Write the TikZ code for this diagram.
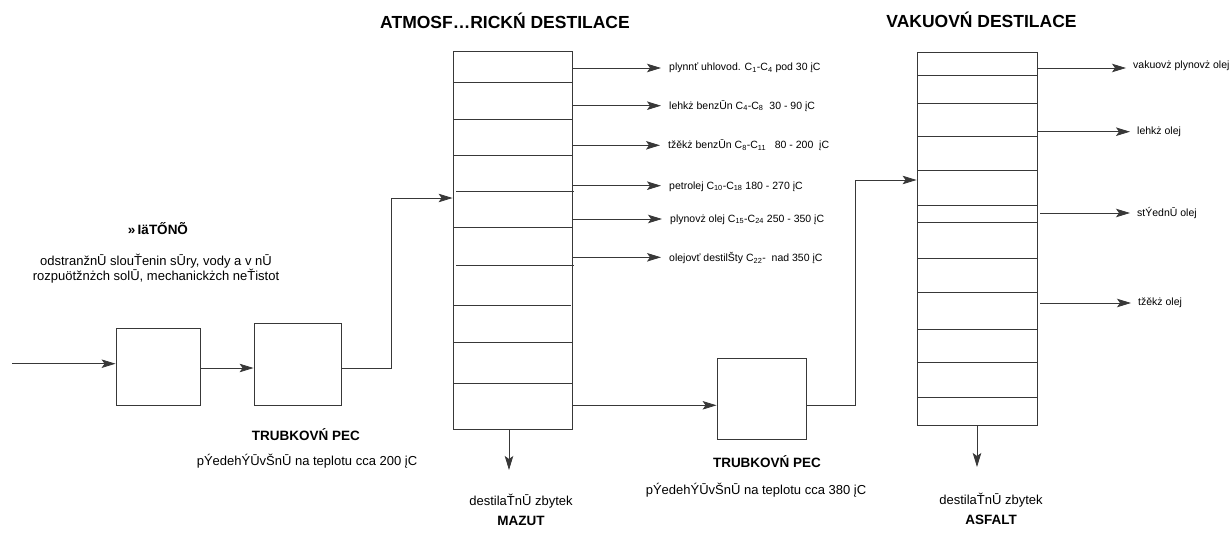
\documentclass[tikz,border=0pt]{standalone}
\usepackage{fontspec}
\setmainfont{Liberation Sans}
\usetikzlibrary{arrows.meta}
\begin{document}
\begin{tikzpicture}[x=1pt,y=-1pt,
  ln/.style={draw=black!78, line width=0.85pt},
  arr/.style={ln, -{Stealth[length=14pt,width=8.5pt,inset=3pt]}},
  box/.style={draw=black!78, line width=0.85pt, inner sep=0pt, fill=white},
  ttl/.style={font=\fontsize{17.5}{20}\selectfont\bfseries, inner sep=0pt},
  hd/.style={font=\fontsize{13.5}{16}\selectfont\bfseries, inner sep=0pt},
  bd/.style={font=\fontsize{13}{13.5}\selectfont, inner sep=0pt, align=center},
  lb/.style={font=\fontsize{10.5}{12}\selectfont, inner sep=0pt, anchor=west},
]
\useasboundingbox (0,0) rectangle (1229,535);

% boxes
\node[box, minimum width=84pt, minimum height=77pt] (b1) at (158,366.5) {};
\node[box, minimum width=87pt, minimum height=82pt] (b2) at (297.5,364) {};
\node[box, minimum width=119pt, minimum height=378pt] (atm) at (512.5,240) {};
\node[box, minimum width=89pt, minimum height=81pt] (f2) at (761.5,398.5) {};
\node[box, minimum width=120pt, minimum height=373pt] (vac) at (977,238.5) {};

% rows of atmospheric column
\foreach \y in {82.3,119,155.3,227.7,342.3,383} \draw[ln] (453,\y) -- (572,\y);
\draw[ln] (456,191.7) -- (574,191.7);
\draw[ln] (456,265.3) -- (574,265.3);
\draw[ln] (453,305.7) -- (570.7,305.7);

% rows of vacuum column
\foreach \y in {75,103,136,170,205,222,258,292,329,362,397} \draw[ln] (917,\y) -- (1037,\y);

% titles
\node[ttl] (t1) at (505,21) {ATMOSF…RICKŃ DESTILACE};
\node[ttl] (t2) at (981.5,20) {VAKUOVŃ DESTILACE};

% left texts
\node[hd] (cis) at (158,229) {»\,IäTŐNÕ};
\node[bd] (cisd) at (156,268.5) {odstranžnŪ slouŤenin sŪry, vody a v nŪ\\rozpuötžnżch solŪ, mechanickżch neŤistot};

\node[hd] (tp1) at (306,435) {TRUBKOVŃ PEC};
\node[bd] (tp1d) at (307,461) {pÝedehÝŪvŠnŪ na teplotu cca 200 įC};
\node[hd] (tp2) at (767,462) {TRUBKOVŃ PEC};
\node[bd] (tp2d) at (756,490) {pÝedehÝŪvŠnŪ na teplotu cca 380 įC};

\node[bd] (dz1) at (521,501) {destilaŤnŪ zbytek};
\node[hd] (mz) at (521,521) {MAZUT};
\node[bd] (dz2) at (991,500) {destilaŤnŪ zbytek};
\node[hd] (as) at (991,520) {ASFALT};

% flow
\coordinate (in) at (12,363.7);
\draw[arr] (in) -- (in -| b1.west);
\draw[arr] (b1.east |- 0,368) -- (b2.west |- 0,368);
\coordinate (k1) at (391,198);
\draw[arr] (b2.east |- 0,368.7) -| (k1) -- (k1 -| atm.west);

% atmospheric outputs
\node[lb] (a1) at (669,68) {plynnť uhlovod. C\textsubscript{1}-C\textsubscript{4} pod 30 įC};
\node[lb] (a2) at (669,106) {lehkż benzŪn C\textsubscript{4}-C\textsubscript{8}\ \ 30 - 90 įC};
\node[lb] (a3) at (668,145.5) {tžěkż benzŪn C\textsubscript{8}-C\textsubscript{11}\ \ \ 80 - 200\ \ įC};
\node[lb] (a4) at (669,186.5) {petrolej C\textsubscript{10}-C\textsubscript{18} 180 - 270 įC};
\node[lb] (a5) at (670,219.5) {plynovż olej C\textsubscript{15}-C\textsubscript{24} 250 - 350 įC};
\node[lb] (a6) at (669,258) {olejovť destilŠty C\textsubscript{22}-\ \ nad 350 įC};
\foreach \n/\y in {a1/68,a2/105.7,a3/145.3,a4/185.7,a5/219,a6/257.3}
  \draw[arr] (atm.east |- 0,\y) -- ([xshift=-8pt]\n.west |- 0,\y);

% bottom outputs
\coordinate (m1) at (509,470);
\draw[arr] (atm.south -| m1) -- (m1);
\coordinate (m2) at (977,467);
\draw[arr] (vac.south -| m2) -- (m2);

% atmospheric -> furnace 2 -> vacuum
\coordinate (r1) at (574,405.3);
\draw[arr] (atm.east |- r1) -- (r1 -| f2.west);
\coordinate (r2) at (855,180);
\draw[arr] (f2.east |- r1) -| (r2) -- (r2 -| vac.west);

% vacuum outputs
\node[lb] (v1) at (1133,66) {vakuovż plynovż olej};
\node[lb] (v2) at (1137,131.7) {lehkż olej};
\node[lb] (v3) at (1137,213) {stÝednŪ olej};
\node[lb] (v4) at (1138,303) {tžěkż olej};
\foreach \n/\y/\s in {v1/68/0,v2/131.7/0,v3/213/3,v4/303/3}
  \draw[arr] ([xshift=\s pt]vac.east |- 0,\y) -- ([xshift=-7pt]\n.west |- 0,\y);
\end{tikzpicture}
\end{document}
